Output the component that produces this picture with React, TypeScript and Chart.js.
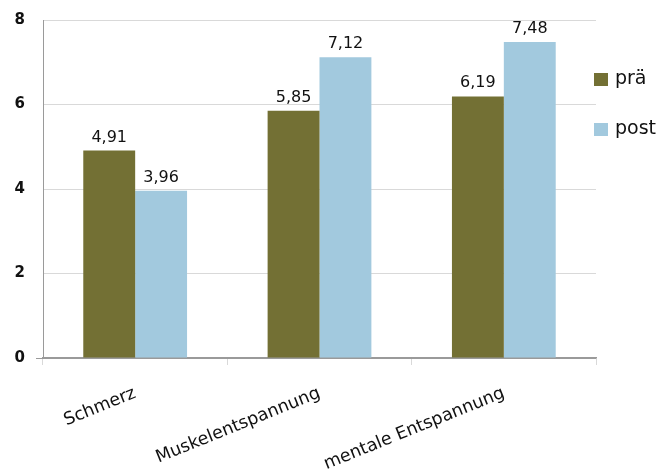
import React, { useEffect, useRef } from "react";
import { Chart, registerables } from "chart.js";

Chart.register(...registerables);

const categories = ["Schmerz", "Muskelentspannung", "mentale Entspannung"];
const seriesNames = ["prä", "post"];
const praeValues = [4.91, 5.85, 6.19];
const postValues = [3.96, 7.12, 7.48];
const yTicks = [0, 2, 4, 6, 8];

const OLIVE = "#737034";
const BLUE = "#a2c9de";
const AXIS = "#9a9a9a";
const GRID = "#d9d9d9";
const FONT = "'DejaVu Sans', sans-serif";

const valueLabels = {
  id: "valueLabels",
  afterDatasetsDraw(chart: any) {
    const ctx = chart.ctx;
    ctx.save();
    ctx.font = `16px ${FONT}`;
    ctx.fillStyle = "#111";
    ctx.textAlign = "center";
    ctx.textBaseline = "alphabetic";
    chart.data.datasets.forEach((ds: any, di: number) => {
      const meta = chart.getDatasetMeta(di);
      meta.data.forEach((bar: any, i: number) => {
        const v = ds.data[i] as number;
        ctx.fillText(v.toFixed(2).replace(".", ","), bar.x, bar.y - 9);
      });
    });
    ctx.restore();
  },
};

const sideLegend = {
  id: "sideLegend",
  afterDraw(chart: any) {
    const ctx = chart.ctx;
    const area = chart.chartArea;
    ctx.save();
    ctx.font = `19px ${FONT}`;
    ctx.textAlign = "left";
    ctx.textBaseline = "middle";
    chart.data.datasets.forEach((ds: any, i: number) => {
      const cy = area.top + 59.5 + i * 50;
      const x = area.right - 2;
      ctx.fillStyle = ds.backgroundColor;
      ctx.fillRect(x, cy - 6.5, 14, 13);
      ctx.fillStyle = "#111";
      ctx.fillText(ds.label, x + 21, cy);
    });
    ctx.restore();
  },
};

export default function App() {
  const ref = useRef<HTMLCanvasElement | null>(null);

  useEffect(() => {
    document.body.style.margin = "0";
    if (!ref.current) return;
    const chart = new Chart(ref.current, {
      type: "bar",
      data: {
        labels: categories,
        datasets: [
          { label: seriesNames[0], data: praeValues, backgroundColor: OLIVE },
          { label: seriesNames[1], data: postValues, backgroundColor: BLUE },
        ],
      },
      options: {
        responsive: false,
        animation: false,
        layout: { padding: { top: 18, right: 66, left: 0, bottom: 0 } },
        plugins: {
          legend: { display: false },
          tooltip: { enabled: false },
        },
        datasets: {
          bar: { categoryPercentage: 0.563, barPercentage: 1 },
        },
        scales: {
          x: {
            afterFit: (scale: any) => {
              scale.height = 114;
            },
            grid: {
              display: true,
              offset: true,
              drawOnChartArea: false,
              drawTicks: true,
              tickLength: 7,
              color: GRID,
              tickColor: GRID,
            },
            border: { display: true, color: AXIS, width: 1.5 },
            ticks: {
              minRotation: 22,
              maxRotation: 22,
              padding: 18,
              color: "#111",
              font: { family: FONT, size: 17.5 },
            },
          },
          y: {
            min: 0,
            max: 8,
            afterFit: (scale: any) => {
              scale.width = 43;
            },
            afterBuildTicks: (scale: any) => {
              scale.ticks = yTicks.map((v) => ({ value: v }));
            },
            grid: {
              color: (c: any) => (c.tick && c.tick.value === 0 ? AXIS : GRID),
              tickColor: (c: any) => (c.tick && c.tick.value === 0 ? AXIS : "rgba(0,0,0,0)"),
              tickLength: 7,
            },
            border: { display: true, color: AXIS, width: 1 },
            ticks: {
              padding: 11,
              color: "#111",
              font: { family: FONT, size: 15, weight: "bold" },
            },
          },
        },
      },
      plugins: [valueLabels, sideLegend],
    });
    return () => chart.destroy();
  }, []);

  return (
    <div style={{ width: 662, height: 472 }}>
      <canvas ref={ref} width={662} height={472} style={{ display: "block" }} />
    </div>
  );
}
